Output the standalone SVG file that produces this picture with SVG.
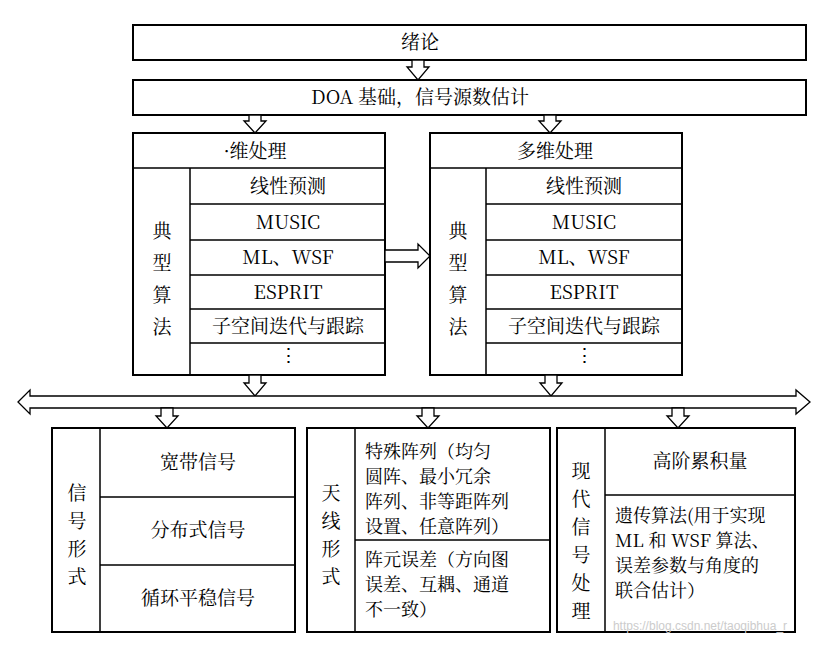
<svg xmlns="http://www.w3.org/2000/svg" width="825" height="647" viewBox="0 0 825 647">
<style>
.b{fill:#fff;stroke:#000;stroke-width:2}
.l{stroke:#000;stroke-width:1.5;fill:none}
.a{fill:#fff;stroke:#000;stroke-width:1.3}
text{font-family:"Noto Serif CJK SC","Liberation Serif","Noto Sans CJK SC",serif;font-size:19px;fill:#000;text-anchor:middle}
.s{font-size:18px;text-anchor:start}
</style>
<rect width="825" height="647" fill="#fff"/>
<g id="n1"><rect class="b" x="133" y="25" width="673" height="35"/><text x="420" y="49">绪论</text></g>
<g id="n2"><rect class="b" x="133" y="80" width="673" height="35"/><text x="420" y="104">DOA 基础，信号源数估计</text></g>
<g id="n3"><rect class="b" x="133" y="133" width="252" height="242"/>
<path class="l" d="M133 168H385M190 168V375M190 204H385M190 240H385M190 275H385M190 309H385M190 343H385"/>
<text x="255" y="158">·维处理</text><text x="288" y="193">线性预测</text><text x="288" y="229">MUSIC</text><text x="288" y="264">ML、WSF</text><text x="288" y="299">ESPRIT</text><text x="288" y="333">子空间迭代与跟踪</text><text x="288" y="362">⋮</text>
<text x="162" y="238">典</text><text x="162" y="270">型</text><text x="162" y="302">算</text><text x="162" y="334">法</text></g>
<g id="n4"><rect class="b" x="430" y="133" width="252" height="242"/>
<path class="l" d="M430 168H682M486 168V375M486 204H682M486 240H682M486 275H682M486 309H682M486 343H682"/>
<text x="555" y="158">多维处理</text><text x="584" y="193">线性预测</text><text x="584" y="229">MUSIC</text><text x="584" y="264">ML、WSF</text><text x="584" y="299">ESPRIT</text><text x="584" y="333">子空间迭代与跟踪</text><text x="584" y="362">⋮</text>
<text x="458" y="238">典</text><text x="458" y="270">型</text><text x="458" y="302">算</text><text x="458" y="334">法</text></g>
<g id="n5"><rect class="b" x="52" y="428" width="243" height="204"/>
<path class="l" d="M100 428V632M100 497H295M100 565H295"/>
<text x="198" y="469">宽带信号</text><text x="198" y="537">分布式信号</text><text x="198" y="605">循环平稳信号</text>
<text x="77" y="500">信</text><text x="77" y="528">号</text><text x="77" y="556">形</text><text x="77" y="584">式</text></g>
<g id="n6"><rect class="b" x="307" y="428" width="243" height="204"/>
<path class="l" d="M355 428V632M355 540H550"/>
<text class="s" x="365" y="458">特殊阵列（均匀</text><text class="s" x="365" y="483">圆阵、最小冗余</text><text class="s" x="365" y="508">阵列、非等距阵列</text><text class="s" x="365" y="533">设置、任意阵列）</text>
<text class="s" x="365" y="566">阵元误差（方向图</text><text class="s" x="365" y="591">误差、互耦、通道</text><text class="s" x="365" y="616">不一致）</text>
<text x="331" y="500">天</text><text x="331" y="528">线</text><text x="331" y="556">形</text><text x="331" y="584">式</text></g>
<g id="n7"><rect class="b" x="557" y="428" width="238" height="204"/>
<path class="l" d="M605 428V632M605 495H795"/>
<text x="700" y="468">高阶累积量</text>
<text class="s" x="615" y="522">遗传算法(用于实现</text><text class="s" x="615" y="547">ML 和 WSF 算法、</text><text class="s" x="615" y="572">误差参数与角度的</text><text class="s" x="615" y="597">联合估计）</text>
<text x="581" y="478">现</text><text x="581" y="506">代</text><text x="581" y="534">信</text><text x="581" y="562">号</text><text x="581" y="590">处</text><text x="581" y="618">理</text></g>
<g id="connectors">
<polygon class="a" points="412,60 424,60 424,67 429,67 418,80 407,67 412,67"/>
<polygon class="a" points="249,115 261,115 261,121 266,121 255,133 244,121 249,121"/>
<polygon class="a" points="544,115 556,115 556,121 561,121 550,133 539,121 544,121"/>
<polygon class="a" points="385,250 418,250 418,244 430,256 418,268 418,262 385,262"/>
<polygon class="a" points="249,375 261,375 261,383 266,383 255,396 244,383 249,383"/>
<polygon class="a" points="545,375 557,375 557,383 562,383 551,396 540,383 545,383"/>
<polygon class="a" points="18,402 30,390 30,396 796,396 796,390 810,402 796,414 796,408 30,408 30,414"/>
<polygon class="a" points="161,408 173,408 173,416 178,416 167,428 156,416 161,416"/>
<polygon class="a" points="422,408 434,408 434,416 439,416 428,428 417,416 422,416"/>
<polygon class="a" points="672,408 684,408 684,416 689,416 678,428 667,416 672,416"/>
</g>
<text x="700" y="630" style="font-family:'Liberation Sans',sans-serif;font-size:12px;fill:#ccc">https://blog.csdn.net/taoqibhua_r</text>
</svg>
